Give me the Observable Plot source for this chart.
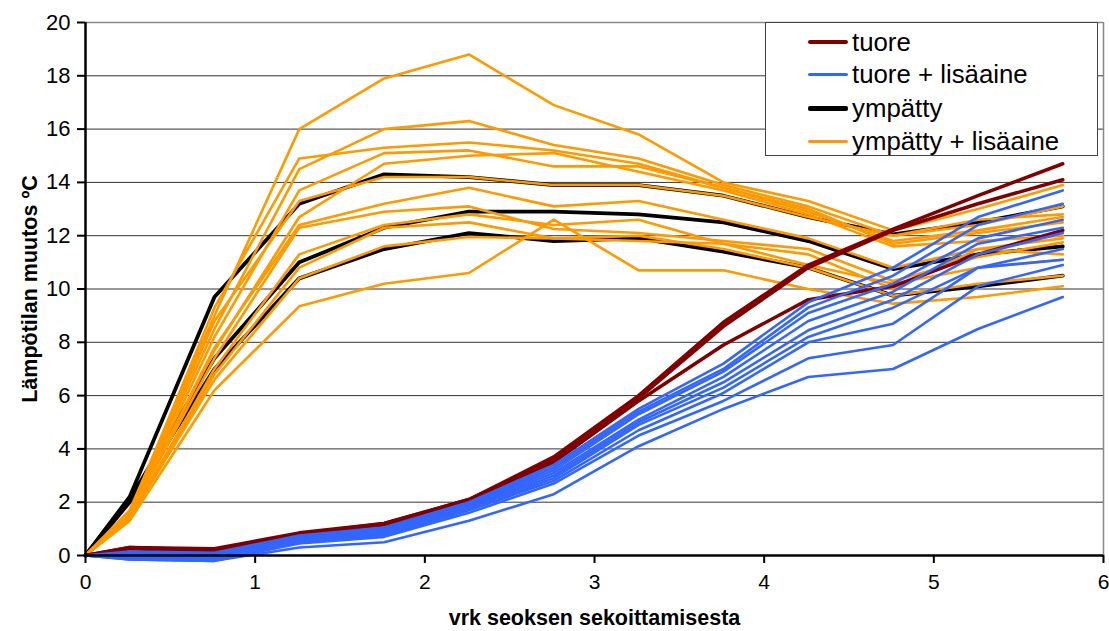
<!DOCTYPE html>
<html><head><meta charset="utf-8">
<script src="https://cdn.jsdelivr.net/npm/d3@7"></script>
<script src="https://cdn.jsdelivr.net/npm/@observablehq/plot@0.6"></script>
<style>
body{margin:0;background:#fff;font-family:"Liberation Sans",Arial,sans-serif;}
#wrap{position:relative;width:1109px;height:631px;}
#legend{position:absolute;left:765px;top:22px;width:333px;height:134px;border:1px solid #444;background:#fff;box-sizing:border-box;}
.row{position:absolute;left:0;height:32px;display:flex;align-items:center;}
.sw{position:absolute;left:42px;width:40px;}
.lab{position:absolute;left:86px;font-size:25.8px;white-space:nowrap;color:#000;line-height:32px;}
</style></head>
<body><div id="wrap"><div id="legend"></div></div>
<script>
const days = [0, 0.26, 0.76, 1.26, 1.76, 2.26, 2.76, 3.26, 3.76, 4.26, 4.76, 5.26, 5.76];
const xTicks = [0, 1, 2, 3, 4, 5, 6];
const yTicks = [0, 2, 4, 6, 8, 10, 12, 14, 16, 18, 20];
const xLabel = "vrk seoksen sekoittamisesta";
const yLabel = "Lämpötilan muutos ºC";
const seriesNames = ["tuore", "tuore + lisäaine", "ympätty", "ympätty + lisäaine"];

const tuore = [
  [0, 0.3, 0.25, 0.85, 1.2, 2.1, 3.7, 6.0, 8.75, 10.9, 12.25, 13.5, 14.7],
  [0, 0.3, 0.2, 0.8, 1.2, 2.1, 3.6, 5.9, 8.6, 10.8, 12.2, 13.2, 14.1],
  [0, 0.25, 0.15, 0.8, 1.15, 2.05, 3.5, 5.8, 7.9, 9.6, 10.1, 11.3, 12.2]
];
const tuoreLisa = [
  [0, 0.15, 0.1, 0.75, 1.05, 2.0, 3.4, 5.5, 7.2, 9.5, 10.8, 12.7, 13.7],
  [0, 0.1, 0.05, 0.7, 1.0, 1.95, 3.3, 5.4, 7.0, 9.3, 10.5, 12.4, 13.2],
  [0, 0.05, 0.0, 0.65, 0.95, 1.9, 3.2, 5.3, 6.9, 9.1, 10.2, 11.9, 12.6],
  [0, 0.0, -0.05, 0.6, 0.9, 1.85, 3.1, 5.1, 6.7, 8.8, 9.9, 11.7, 12.3],
  [0, -0.05, -0.1, 0.55, 0.85, 1.8, 3.0, 5.0, 6.5, 8.45, 9.6, 11.3, 12.1],
  [0, -0.1, -0.15, 0.5, 0.8, 1.75, 2.9, 4.9, 6.3, 8.2, 9.3, 10.8, 11.5],
  [0, -0.1, -0.15, 0.5, 0.75, 1.7, 2.8, 4.7, 6.1, 8.0, 8.7, 10.8, 11.1],
  [0, -0.15, -0.2, 0.45, 0.7, 1.6, 2.7, 4.5, 5.8, 7.4, 7.9, 10.1, 10.9],
  [0, -0.15, -0.2, 0.3, 0.5, 1.3, 2.3, 4.1, 5.5, 6.7, 7.0, 8.5, 9.7]
];
const ympatty = [
  [0, 2.2, 9.7, 13.2, 14.3, 14.2, 13.9, 13.9, 13.5, 12.7, 12.05, 12.5, 13.1],
  [0, 2.1, 7.4, 11.0, 12.3, 12.9, 12.9, 12.8, 12.5, 11.8, 10.75, 11.3, 11.6],
  [0, 2.0, 7.0, 10.4, 11.5, 12.1, 11.8, 11.9, 11.4, 10.8, 9.75, 10.1, 10.5]
];
const ympattyLisa = [
  [0, 1.7, 9.0, 16.0, 17.9, 18.8, 16.9, 15.8, 14.0, 13.3, 12.2, 13.0, 13.9],
  [0, 1.6, 8.5, 14.5, 16.0, 16.3, 15.4, 14.9, 13.9, 13.1, 12.0, 12.6, 12.8],
  [0, 1.6, 9.3, 14.9, 15.3, 15.5, 15.2, 14.7, 13.8, 12.9, 11.8, 12.2, 12.7],
  [0, 1.5, 8.2, 13.7, 15.1, 15.2, 14.6, 14.6, 13.8, 13.0, 11.7, 12.1, 12.5],
  [0, 1.5, 7.7, 12.7, 14.7, 15.0, 15.1, 14.4, 13.7, 12.8, 11.6, 11.8, 12.0],
  [0, 1.6, 8.8, 13.3, 14.2, 14.2, 13.9, 13.9, 13.5, 12.7, 12.0, 12.4, 13.1],
  [0, 1.5, 7.8, 12.4, 13.2, 13.8, 13.1, 13.3, 12.6, 11.9, 10.8, 11.5, 11.9],
  [0, 1.5, 7.4, 12.3, 12.9, 13.1, 12.25, 12.1, 11.8, 11.5, 10.3, 11.2, 11.75],
  [0, 1.4, 7.0, 11.3, 12.4, 12.8, 12.4, 12.6, 11.7, 11.3, 10.0, 11.5, 11.3],
  [0, 1.4, 6.8, 10.8, 12.3, 12.5, 11.9, 11.8, 11.7, 10.9, 10.2, 10.8, 11.1],
  [0, 1.4, 6.6, 10.4, 11.6, 11.95, 11.9, 12.0, 11.5, 10.8, 9.75, 10.2, 10.5],
  [0, 1.3, 6.2, 9.35, 10.2, 10.6, 12.6, 10.7, 10.7, 10.0, 9.45, 9.7, 10.1]
];

const colors = ["#800000", "#3366FF", "#000000", "#FF9900"];
const widths = [3.5, 2.6, 3.8, 2.6];
const legendWidths = [4, 3, 5, 3];
const groups = [tuore, tuoreLisa, ympatty, ympattyLisa];

function rowsOf(gi) {
  const out = [];
  groups[gi].forEach((vals, i) => vals.forEach((v, j) => out.push({id: gi + "-" + i, x: days[j], y: v})));
  return out;
}
const drawOrder = [2, 3, 0, 1];
const lineMarks = drawOrder.map(gi => Plot.line(rowsOf(gi), {
  x: "x", y: "y", z: "id", stroke: colors[gi], strokeWidth: widths[gi]
}));

const chart = Plot.plot({
  width: 1109, height: 631,
  marginLeft: 85, marginRight: 6, marginTop: 22, marginBottom: 76,
  x: {domain: [0, 6]},
  y: {domain: [0, 20]},
  style: {fontFamily: "'Liberation Sans', Arial, sans-serif", background: "#fff", color: "#000"},
  marks: [
    Plot.gridY(yTicks.slice(1, -1), {stroke: "#333", strokeOpacity: 1, strokeWidth: 1}),
    Plot.ruleY([20], {stroke: "#888", strokeWidth: 1.5}),
    Plot.ruleX([6], {stroke: "#888", strokeWidth: 1.5}),
    ...lineMarks,
    Plot.ruleX([0], {stroke: "#000", strokeWidth: 2.5}),
    Plot.ruleY([0], {stroke: "#000", strokeWidth: 2.5}),
    Plot.axisY(yTicks, {tickSize: 8, tickPadding: 7, fontSize: 22, strokeWidth: 2, label: null, tickFormat: d3.format("d")}),
    Plot.axisX(xTicks, {tickSize: 8, tickPadding: 11, fontSize: 21, strokeWidth: 2, label: null, tickFormat: d3.format("d")}),
    Plot.text([yLabel], {text: d => d, frameAnchor: "left", dx: -55, rotate: -90, textAnchor: "middle", lineAnchor: "middle", fontSize: 21.5, fontWeight: "bold"}),
    Plot.text([xLabel], {text: d => d, frameAnchor: "bottom", dy: 63, textAnchor: "middle", lineAnchor: "middle", fontSize: 21.5, fontWeight: "bold"})
  ]
});
const wrap = document.getElementById("wrap");
wrap.insertBefore(chart, wrap.firstChild);

const legend = document.getElementById("legend");
const rowTops = [3, 35, 69, 102];
seriesNames.forEach((name, i) => {
  const row = document.createElement("div");
  row.className = "row";
  row.style.top = rowTops[i] + "px";
  const sw = document.createElement("div");
  sw.className = "sw";
  sw.style.height = legendWidths[i] + "px";
  sw.style.background = colors[i];
  sw.style.top = (16 - legendWidths[i] / 2) + "px";
  sw.style.borderRadius = "2px";
  const lab = document.createElement("div");
  lab.className = "lab";
  lab.textContent = name;
  row.appendChild(sw);
  row.appendChild(lab);
  legend.appendChild(row);
});
</script></body></html>
